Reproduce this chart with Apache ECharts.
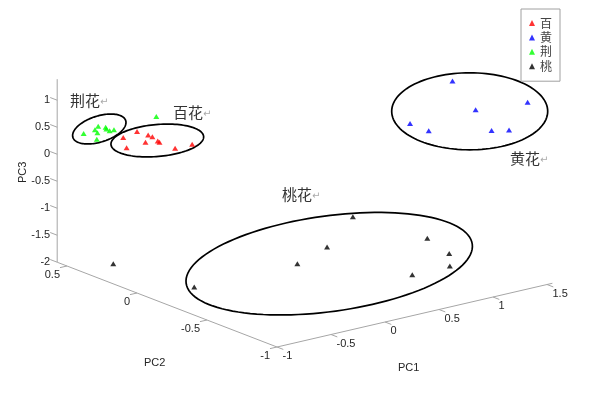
<!DOCTYPE html>
<html><head><meta charset="utf-8">
<script src="https://cdn.jsdelivr.net/npm/echarts@6/dist/echarts.min.js"></script>
<style>html,body{margin:0;padding:0;background:#fff}#c{width:592px;height:395px}</style>
</head><body><div id="c"></div>
<script>
// ---- data: each point is [PC1, PC2, PC3] ----
const seriesNames = ['百', '黄', '荆', '桃'];
const seriesColors = ['#ff0000', '#0000ff', '#00ff00', '#000000'];
const baiData = [
  [-0.57, 0.43, 0.25], [-0.52, 0.37, 0.40], [-0.43, 0.36, 0.30], [-0.43, 0.33, 0.30],
  [-0.39, 0.41, 0.10], [-0.38, 0.33, 0.20], [-0.39, 0.31, 0.20], [-0.50, 0.46, 0.00],
  [-0.31, 0.26, 0.10], [-0.23, 0.20, 0.20]
];
const huangData = [
  [1.26, -0.51, 1.39], [1.45, -0.90, 1.30], [1.28, -0.66, 1.00], [0.53, -0.77, 1.20],
  [0.69, -0.78, 1.00], [1.22, -0.82, 0.80], [1.33, -0.86, 0.80]
];
const jingData = [
  [-0.82, 0.52, 0.35], [-0.75, 0.47, 0.50], [-0.78, 0.47, 0.45], [-0.77, 0.46, 0.40],
  [-0.72, 0.44, 0.50], [-0.70, 0.45, 0.45], [-0.67, 0.45, 0.40], [-0.63, 0.45, 0.40],
  [-0.75, 0.48, 0.25], [-0.51, 0.24, 0.80]
];
const taoData = [
  [-0.74, 0.37, -1.95], [-0.82, -0.27, -1.70], [-0.28, -0.59, -1.20], [0.06, -0.54, -1.10],
  [0.26, -0.57, -0.60], [0.69, -0.77, -1.00], [0.75, -0.88, -1.20], [0.73, -0.90, -1.40],
  [0.46, -0.84, -1.50]
];
const pc1Ticks = [-1, -0.5, 0, 0.5, 1, 1.5];
const pc2Ticks = [-1, -0.5, 0, 0.5];
const pc3Ticks = [-2, -1.5, -1, -0.5, 0, 0.5, 1];
const pc1Range = [-1, 1.55];
const pc2Range = [-1, 0.57];
const pc3Range = [-2, 1.39];
const axisNames = ['PC1', 'PC2', 'PC3'];
const clusterNames = ['荆花', '百花', '黄花', '桃花'];

// ---- view (orthographic projection of the 3D box onto the plane) ----
const E1 = [108, 25], E2 = [-140, 54], E3 = [0, 54];
function proj(p) {
  const a = p[0] - pc1Range[0], b = p[1] - pc2Range[0], c = p[2] - pc3Range[0];
  return [E1[0] * a + E2[0] * b + E3[0] * c, E1[1] * a + E2[1] * b + E3[1] * c];
}
// cluster outlines drawn on the projection plane: [cu, cv, semiA, semiB, angleDeg]
const outlineGeom = [
  [-177.7, 218, 27.7, 13, 17.7],
  [-119.7, 206.5, 46.5, 16, 5],
  [192.7, 235.7, 78, 38.5, 0],
  [52.2, 83.3, 144.4, 47.8, 7.8]
];

const AX = '#a6a6a6', TXT = '#262626', FONT = '"Liberation Sans", Arial, sans-serif';
function txt(x, y, s, align, va) {
  return { type: 'text', x: x, y: y, style: { text: s, fill: TXT, font: '11px ' + FONT,
    align: align, verticalAlign: va, textAlign: align, textVerticalAlign: va } };
}
function seg(p, q) {
  return { type: 'line', shape: { x1: p[0], y1: p[1], x2: q[0], y2: q[1] }, style: { stroke: AX, lineWidth: 1 } };
}
function axisSeries(ticks, pointOf, tickEnd, labelOff, align, start, end) {
  return {
    type: 'custom', silent: true, z: 1, data: ticks.map((t, i) => [i]),
    renderItem: function (params, api) {
      const t = ticks[params.dataIndex];
      const p = api.coord(proj(pointOf(t)));
      const q = api.coord(proj(tickEnd(t)));
      const ch = [seg(p, q), txt(p[0] + labelOff[0], p[1] + labelOff[1], String(t), align, 'middle')];
      if (params.dataIndex === 0) ch.push(seg(api.coord(proj(start)), api.coord(proj(end))));
      return { type: 'group', children: ch };
    }
  };
}

const series = [];
series.push(axisSeries(pc1Ticks, t => [t, pc2Range[0], pc3Range[0]], t => [t, pc2Range[0] - 0.045, pc3Range[0]],
  [5.5, 9], 'left', [pc1Range[0], pc2Range[0], pc3Range[0]], [pc1Range[1], pc2Range[0], pc3Range[0]]));
series.push(axisSeries(pc2Ticks, t => [pc1Range[0], t, pc3Range[0]], t => [pc1Range[0] - 0.065, t, pc3Range[0]],
  [-7, 9], 'right', [pc1Range[0], pc2Range[0], pc3Range[0]], [pc1Range[0], pc2Range[1], pc3Range[0]]));
series.push(axisSeries(pc3Ticks, t => [pc1Range[0], pc2Range[1], t], t => [pc1Range[0], pc2Range[1] + 0.05, t],
  [-7, -0.5], 'right', [pc1Range[0], pc2Range[1], pc3Range[0]], [pc1Range[0], pc2Range[1], pc3Range[1]]));

series.push({
  type: 'custom', silent: true, z: 3, data: outlineGeom.map((g, i) => [i]),
  renderItem: function (params, api) {
    const g = outlineGeom[params.dataIndex];
    const r = g[4] * Math.PI / 180, pts = [];
    for (let k = 0; k < 120; k++) {
      const t = 2 * Math.PI * k / 120;
      const x = g[2] * Math.cos(t), y = g[3] * Math.sin(t);
      pts.push(api.coord([g[0] + x * Math.cos(r) - y * Math.sin(r), g[1] + x * Math.sin(r) + y * Math.cos(r)]));
    }
    return { type: 'polygon', shape: { points: pts }, style: { fill: 'none', stroke: '#000', lineWidth: 1.7 } };
  }
});

[baiData, huangData, jingData, taoData].forEach((d, i) => {
  series.push({
    name: seriesNames[i], type: 'scatter', symbol: 'triangle', symbolSize: [6, 5], z: 5,
    itemStyle: { color: seriesColors[i] }, data: d.map(proj), silent: true
  });
});

const labelPos = [[70, 102], [173, 114], [510, 160], [282, 196]];
const graphics = [
  { type: 'text', left: 398, top: 362, style: { text: axisNames[0], fill: TXT, font: '11px ' + FONT } },
  { type: 'text', left: 144, top: 357, style: { text: axisNames[1], fill: TXT, font: '11px ' + FONT } },
  { type: 'text', x: 17, y: 183, rotation: Math.PI / 2, style: { text: axisNames[2], fill: TXT, font: '11px ' + FONT } }
];
clusterNames.forEach((n, i) => {
  graphics.push({ type: 'text', left: labelPos[i][0], top: labelPos[i][1] - 9,
    style: { text: '{a|' + n + '}{b|↵}', rich: {
      a: { fontSize: 15, fontFamily: '"Noto Sans CJK SC"', fill: '#333', color: '#333' },
      b: { fontSize: 10, fontFamily: '"DejaVu Sans"', fill: '#aaa', color: '#aaa', padding: [4, 0, 0, 0] } } } });
});

const chart = echarts.init(document.getElementById('c'), null, { renderer: 'canvas' });
chart.setOption({
  animation: false,
  grid: { left: 0, right: 0, top: 0, bottom: 0 },
  xAxis: { type: 'value', min: -277, max: 315, show: false },
  yAxis: { type: 'value', min: -48, max: 347, show: false },
  legend: {
    data: seriesNames, orient: 'vertical', left: 521, top: 9,
    padding: [8, 8, 9, 8], itemWidth: 6, itemHeight: 6, itemGap: 2.4,
    backgroundColor: '#fff', borderColor: '#a0a0a0', borderWidth: 1, borderRadius: 0,
    textStyle: { fontSize: 12, lineHeight: 12, color: '#444', fontFamily: '"Noto Sans CJK SC"', padding: 0 },
    selectedMode: false
  },
  graphic: graphics,
  series: series
});
</script></body></html>
